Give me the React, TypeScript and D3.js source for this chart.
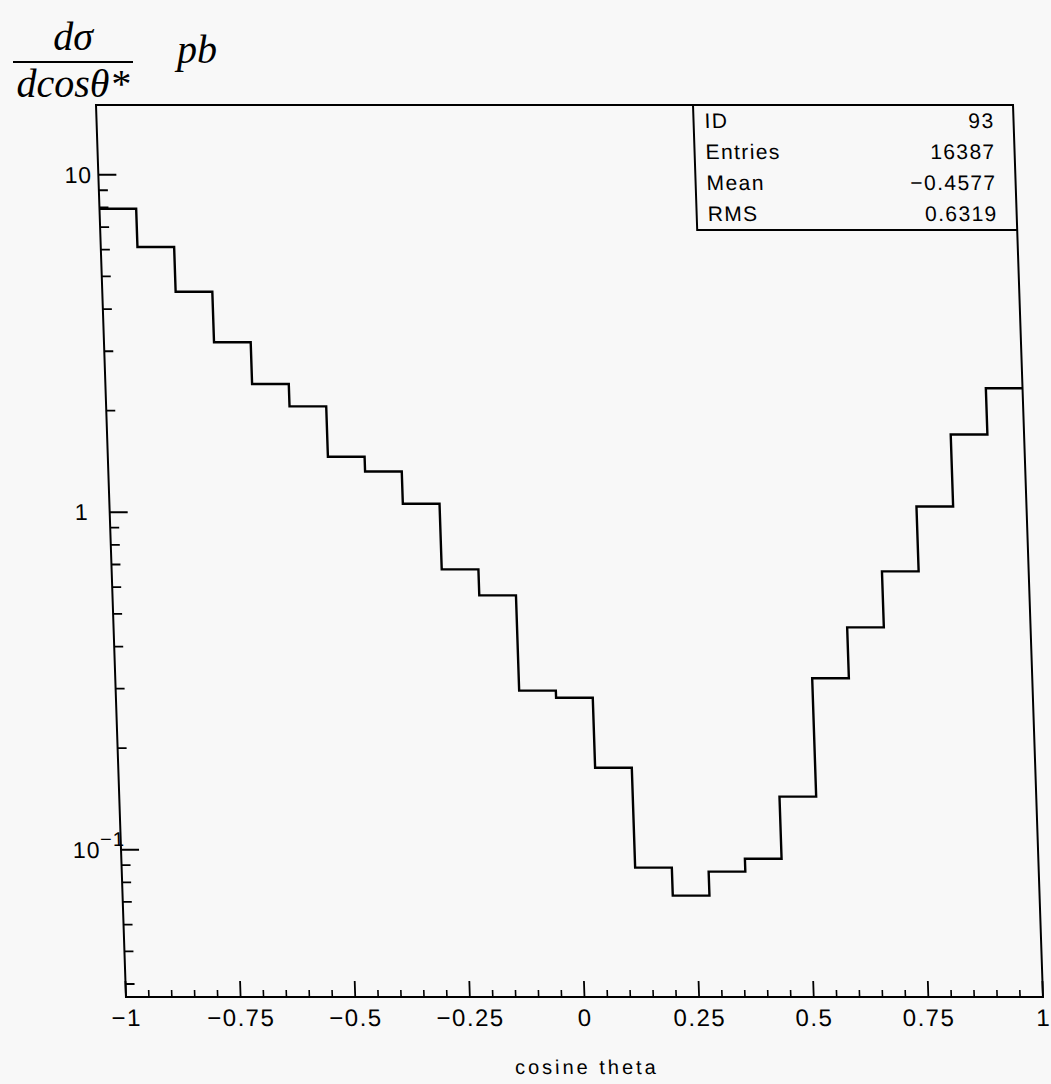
import { useEffect, useRef } from "react";
import * as d3 from "d3";

// lower bin edges (bin width 0.08) and bin contents
const binLow = [-1, -0.92, -0.84, -0.76, -0.68, -0.6, -0.52, -0.44, -0.36, -0.28, -0.2, -0.12, -0.04,
  0.04, 0.12, 0.2, 0.28, 0.36, 0.44, 0.52, 0.6, 0.68, 0.76, 0.84, 0.92];
const binHigh = 1;
const counts = [7.93, 6.11, 4.5, 3.19, 2.4, 2.06, 1.46, 1.32, 1.06, 0.677, 0.567, 0.296, 0.282,
  0.175, 0.0885, 0.0731, 0.0861, 0.094, 0.1436, 0.322, 0.456, 0.668, 1.04, 1.7, 2.33];

const xMajor = [-1, -0.75, -0.5, -0.25, 0, 0.25, 0.5, 0.75, 1];
const xLabels = ["\u22121", "\u22120.75", "\u22120.5", "\u22120.25", "0", "0.25", "0.5", "0.75", "1"];
const yMajor = [10, 1, 0.1];

const statLabels = ["ID", "Entries", "Mean", "RMS"];
const statValues = ["93", "16387", "\u22120.4577", "0.6319"];

function App() {
  const ref = useRef<SVGSVGElement>(null);

  useEffect(() => {
    const width = 1051;
    const height = 1084;
    const left = 96;
    const top = 105;
    const W = 917;
    const H = 892;
    const skew = 1.925; // the scanned page is sheared a little

    const svg = d3.select(ref.current);
    svg.selectAll("*").remove();
    svg.attr("width", width).attr("height", height);

    svg.append("rect").attr("width", width).attr("height", height).attr("fill", "#f8f8f8");

    // y title: d sigma / d cos theta*   pb
    const title = svg.append("g")
      .attr("font-family", "'Liberation Serif', serif")
      .attr("font-style", "italic")
      .attr("font-size", 40)
      .attr("fill", "#000");
    title.append("text").attr("x", 73).attr("y", 50).attr("text-anchor", "middle").text("d\u03c3");
    title.append("line").attr("x1", 13).attr("x2", 133).attr("y1", 62).attr("y2", 62)
      .attr("stroke", "#000").attr("stroke-width", 1.8);
    title.append("text").attr("x", 73).attr("y", 97).attr("text-anchor", "middle").text("dcos\u03b8*");
    title.append("text").attr("x", 177).attr("y", 63).text("pb");

    const g = svg.append("g").attr("transform", `translate(${left},${top}) skewX(${skew})`);

    const x = d3.scaleLinear().domain([-1, 1]).range([0, W]);
    const y = d3.scaleLog().domain([0.0366, 16.1]).range([H, 0]);

    // frame
    g.append("rect").attr("width", W).attr("height", H)
      .attr("fill", "none").attr("stroke", "#000").attr("stroke-width", 2);

    // y ticks
    const yMinor = y.ticks().filter(v => !yMajor.some(m => Math.abs(m - v) < 1e-9));
    g.append("g").selectAll("line").data(yMinor).join("line")
      .attr("x1", 0).attr("x2", 9).attr("y1", d => y(d)).attr("y2", d => y(d))
      .attr("stroke", "#000").attr("stroke-width", 1.8);
    g.append("g").selectAll("line").data(yMajor).join("line")
      .attr("x1", 0).attr("x2", 18).attr("y1", d => y(d)).attr("y2", d => y(d))
      .attr("stroke", "#000").attr("stroke-width", 2);

    const tickFont = "'Liberation Sans', Arial, sans-serif";
    const yl = g.append("g").attr("font-family", tickFont).attr("font-size", 23)
      .attr("letter-spacing", 1).attr("text-anchor", "middle").attr("fill", "#000");
    yl.append("text").attr("x", -20).attr("y", y(10) + 8).text("10");
    yl.append("text").attr("x", -28).attr("y", y(1) + 8).text("1");
    const t = yl.append("text").attr("x", -22).attr("y", y(0.1) + 8);
    t.append("tspan").text("10");
    t.append("tspan").attr("dy", -12).attr("font-size", 20).text("\u22121");

    // x ticks
    const xMinor = x.ticks(40).filter(v => !xMajor.some(m => Math.abs(m - v) < 1e-9));
    g.append("g").selectAll("line").data(xMinor).join("line")
      .attr("x1", d => x(d)).attr("x2", d => x(d)).attr("y1", H).attr("y2", H - 7)
      .attr("stroke", "#000").attr("stroke-width", 1.6);
    g.append("g").selectAll("line").data(xMajor).join("line")
      .attr("x1", d => x(d)).attr("x2", d => x(d)).attr("y1", H).attr("y2", H - 16)
      .attr("stroke", "#000").attr("stroke-width", 1.8);
    g.append("g").attr("font-family", tickFont).attr("font-size", 24)
      .attr("letter-spacing", 1.5).attr("text-anchor", "middle").attr("fill", "#000")
      .selectAll("text").data(xMajor).join("text")
      .attr("x", d => x(d)).attr("y", H + 29)
      .text((d, i) => xLabels[i]);

    g.append("text")
      .attr("x", x(0)).attr("y", H + 77)
      .attr("text-anchor", "middle")
      .attr("font-family", tickFont).attr("font-size", 20).attr("letter-spacing", 3)
      .attr("fill", "#000")
      .text("cosine theta");

    // histogram
    const pts: [number, number][] = binLow.map((b, i) => [b, counts[i]]);
    pts.push([binHigh, counts[counts.length - 1]]);
    const line = d3.line<[number, number]>()
      .x(d => x(d[0])).y(d => y(d[1]))
      .curve(d3.curveStepAfter);
    g.append("path").attr("d", line(pts))
      .attr("fill", "none").attr("stroke", "#000").attr("stroke-width", 2.4);

    // stats box
    const boxX = 597;
    const boxH = 125;
    g.append("path").attr("d", `M${boxX},0V${boxH}H${W}`)
      .attr("fill", "none").attr("stroke", "#000").attr("stroke-width", 2);
    const rowY = d3.scalePoint<string>().domain(statLabels).range([23, 116]);
    const stats = g.append("g").attr("font-family", tickFont).attr("font-size", 21)
      .attr("letter-spacing", 1.4).attr("fill", "#000");
    stats.selectAll("text.l").data(statLabels).join("text").attr("class", "l")
      .attr("x", boxX + 11).attr("y", d => rowY(d)!).text(d => d);
    stats.selectAll("text.v").data(statLabels).join("text").attr("class", "v")
      .attr("x", 898).attr("y", d => rowY(d)!).attr("text-anchor", "end")
      .text((d, i) => statValues[i]);
  }, []);

  return <svg ref={ref} style={{ position: "absolute", left: 0, top: 0, display: "block" }} />;
}

export default App;
